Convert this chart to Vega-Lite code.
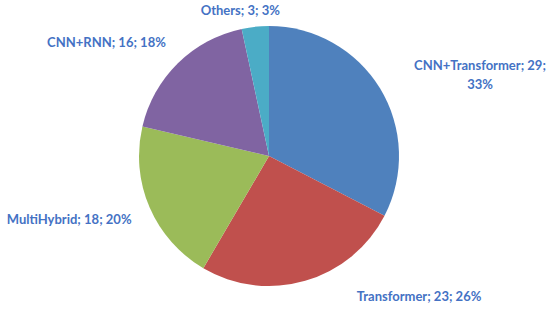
{
  "$schema": "https://vega.github.io/schema/vega-lite/v6.json",
  "width": 538,
  "height": 308,
  "padding": {"left": 0, "top": 2, "right": 12, "bottom": 2},
  "autosize": {"type": "none"},
  "background": "white",
  "view": {"stroke": null},
  "data": {
    "values": [
      {"category": "CNN+Transformer", "count": 29, "rank": 1, "label": "CNN+Transformer; 29;\n33%"},
      {"category": "Transformer", "count": 23, "rank": 2, "label": "Transformer; 23; 26%"},
      {"category": "MultiHybrid", "count": 18, "rank": 3, "label": "MultiHybrid; 18; 20%"},
      {"category": "CNN+RNN", "count": 16, "rank": 4, "label": "CNN+RNN; 16; 18%"},
      {"category": "Others", "count": 3, "rank": 5, "label": "Others; 3; 3%"}
    ]
  },
  "transform": [
    {"stack": "count", "groupby": [], "sort": [{"field": "rank", "order": "ascending"}], "as": ["start", "end"]}
  ],
  "layer": [
    {
      "mark": {"type": "arc", "outerRadius": 130},
      "encoding": {
        "theta": {"field": "start", "type": "quantitative", "scale": {"domain": [0, 89]}},
        "theta2": {"field": "end"},
        "color": {
          "field": "category",
          "type": "nominal",
          "scale": {
            "domain": ["CNN+Transformer", "Transformer", "MultiHybrid", "CNN+RNN", "Others"],
            "range": ["#4F81BD", "#C0504D", "#9BBB59", "#8064A2", "#4BACC6"]
          },
          "legend": null
        }
      }
    },
    {
      "transform": [{"filter": "datum.category === 'CNN+Transformer'"}],
      "mark": {"type": "text", "radius": 170, "font": "Lato", "fontWeight": "bold", "fontSize": 13, "fill": "#4472C4", "lineBreak": "\n", "lineHeight": 19, "align": "center", "baseline": "middle", "dx": 211, "dy": 80},
      "encoding": {"theta": {"field": "start", "type": "quantitative"}, "text": {"field": "label"}}
    },
    {
      "transform": [{"filter": "datum.category === 'Transformer'"}],
      "mark": {"type": "text", "radius": 170, "font": "Lato", "fontWeight": "bold", "fontSize": 13, "fill": "#4472C4", "align": "center", "baseline": "middle", "dx": -1, "dy": 63},
      "encoding": {"theta": {"field": "start", "type": "quantitative"}, "text": {"field": "label"}}
    },
    {
      "transform": [{"filter": "datum.category === 'MultiHybrid'"}],
      "mark": {"type": "text", "radius": 170, "font": "Lato", "fontWeight": "bold", "fontSize": 13, "fill": "#4472C4", "align": "center", "baseline": "middle", "dx": -114, "dy": -83},
      "encoding": {"theta": {"field": "start", "type": "quantitative"}, "text": {"field": "label"}}
    },
    {
      "transform": [{"filter": "datum.category === 'CNN+RNN'"}],
      "mark": {"type": "text", "radius": 170, "font": "Lato", "fontWeight": "bold", "fontSize": 13, "fill": "#4472C4", "align": "center", "baseline": "middle", "dx": 3, "dy": -74},
      "encoding": {"theta": {"field": "start", "type": "quantitative"}, "text": {"field": "label"}}
    },
    {
      "transform": [{"filter": "datum.category === 'Others'"}],
      "mark": {"type": "text", "radius": 170, "font": "Lato", "fontWeight": "bold", "fontSize": 13, "fill": "#4472C4", "align": "center", "baseline": "middle", "dx": 7, "dy": 21},
      "encoding": {"theta": {"field": "start", "type": "quantitative"}, "text": {"field": "label"}}
    }
  ]
}
